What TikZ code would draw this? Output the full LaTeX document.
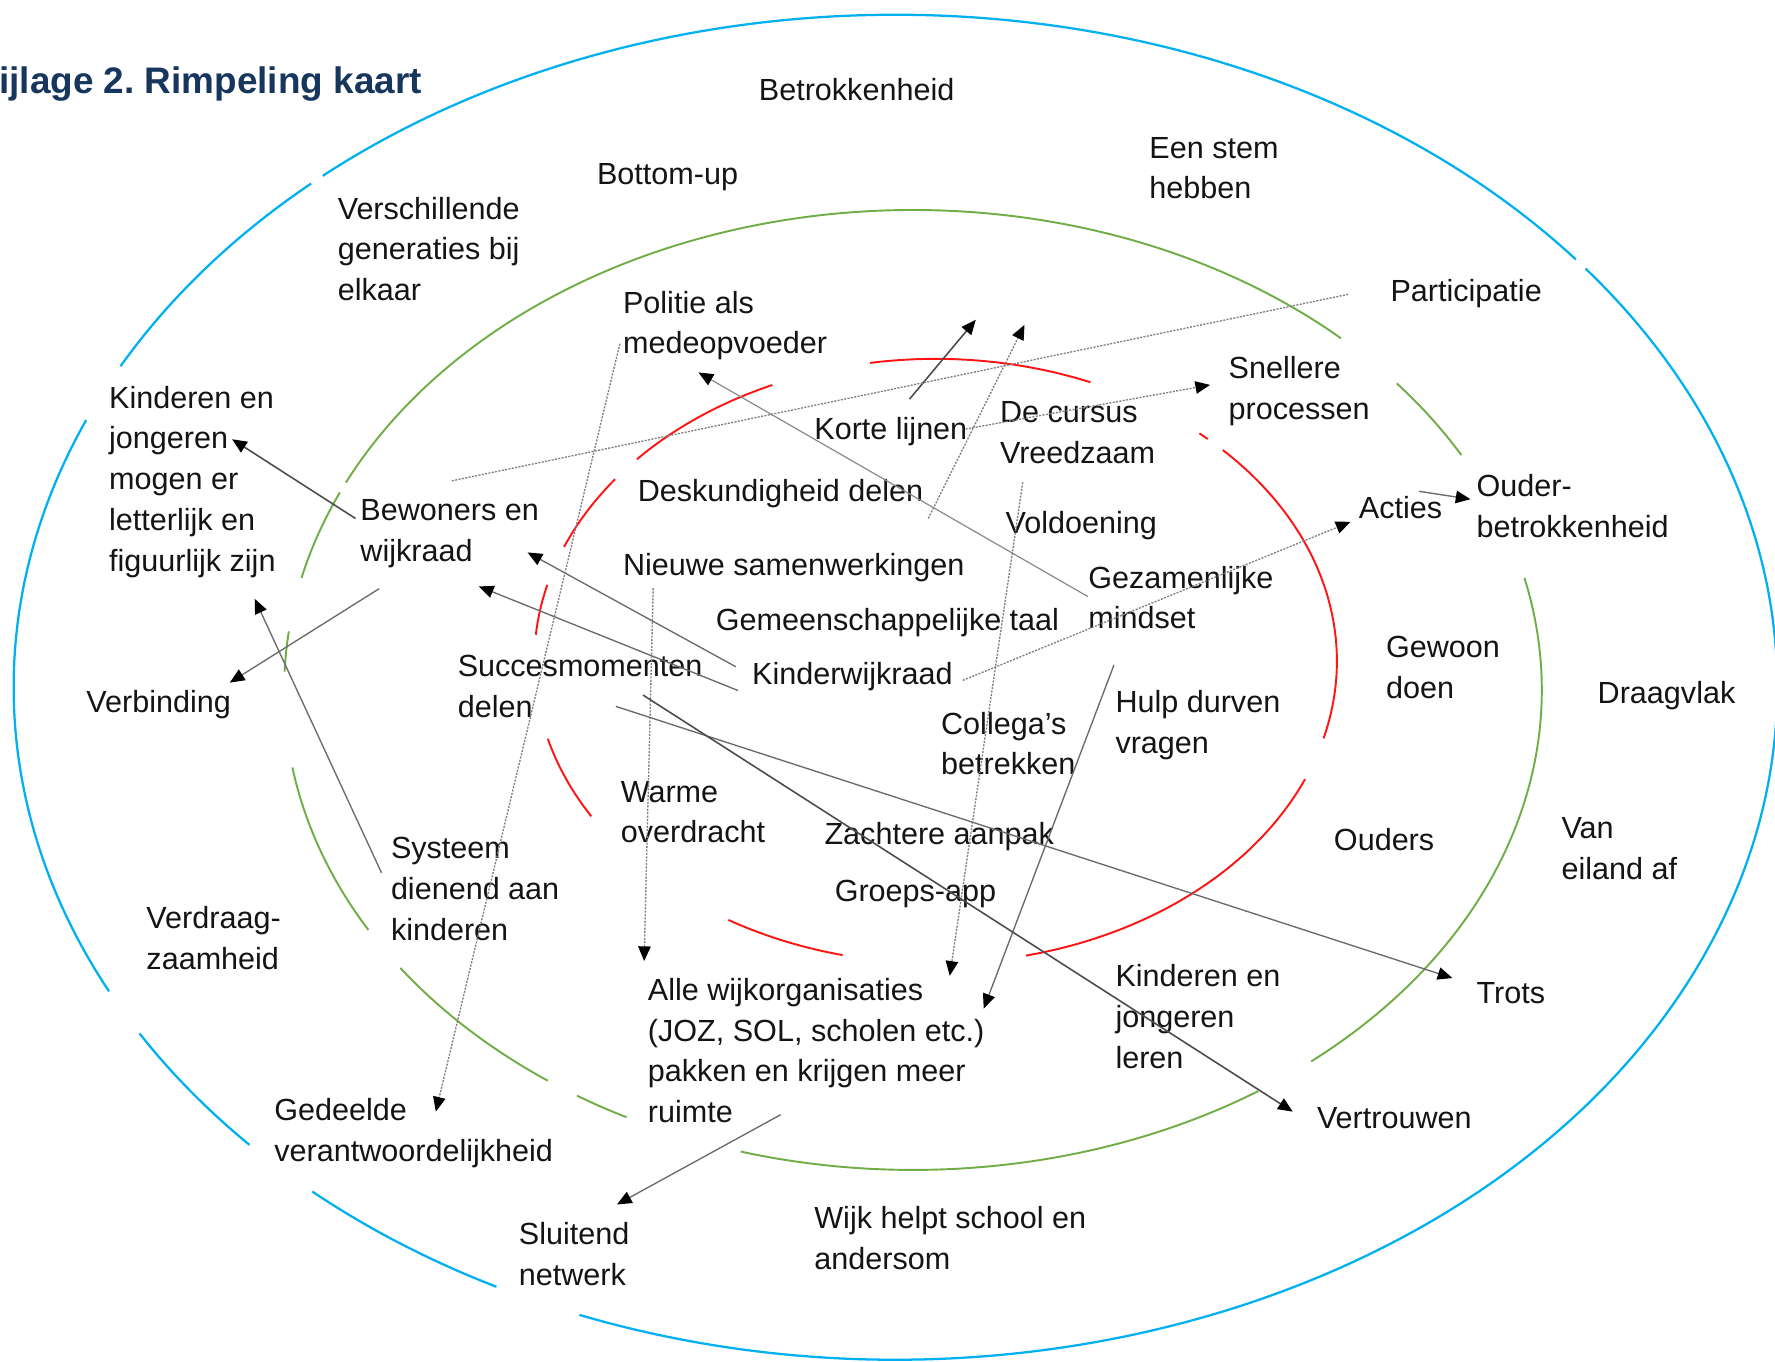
\documentclass[tikz,border=0pt]{standalone}
\usepackage{fontspec}
\setmainfont{Liberation Sans}
\usetikzlibrary{arrows.meta}
\frenchspacing
\definecolor{cblue}{RGB}{0,176,240}
\definecolor{cgreen}{RGB}{112,173,71}
\definecolor{cred}{RGB}{255,20,20}
\definecolor{ctitle}{RGB}{23,54,93}
% #1 style, #2 cx, #3 cy, #4 rx, #5 ry, #6 start angle, #7 end angle (visual, counterclockwise)
\newcommand\earc[7]{\draw[#1] ({#2+#4*cos(#6)},{#3-#5*sin(#6)}) arc[start angle=#6, end angle=#7, x radius={#4*0.5pt}, y radius={#5*0.5pt}];}
\tikzset{
  lbl/.style={anchor=north west, inner sep=0pt, align=left, text=black!92,
    font=\fontsize{13.5}{18}\selectfont},
  ring/.style={line width=1pt, draw=cblue},
  gring/.style={line width=0.85pt, draw=cgreen},
  rring/.style={line width=0.85pt, draw=cred},
  tipp/.style={-{Triangle[length=6.5pt,width=5.5pt,color=black]}},
  ln/.style={draw=black!58, line width=0.6pt},
  lnd/.style={draw=black!70, line width=0.7pt},
  lnl/.style={draw=black!45, line width=0.55pt},
  dt/.style={draw=black!50, line width=0.6pt, dash pattern=on 0.9pt off 0.6pt},
}
\begin{document}
\begin{tikzpicture}[x=0.5pt, y=-0.5pt]
\useasboundingbox (0,0) rectangle (1568,1203);

% ---------- blue ellipse ----------
\earc{ring}{791}{607}{779}{594}{39.5}{130.5}
\earc{ring}{791}{607}{779}{594}{131.5}{151.5}
\earc{ring}{791}{607}{779}{594}{156.6}{206.9}
\earc{ring}{791}{607}{779}{594}{211.0}{222.9}
\earc{ring}{791}{607}{779}{594}{228.6}{243.1}
\earc{ring}{791}{607}{779}{594}{249.0}{398.5}

% ---------- green ellipse ----------
\earc{gring}{806.5}{609.5}{555.5}{424}{29.3}{39.7}
\earc{gring}{806.5}{609.5}{555.5}{424}{47.1}{154.4}
\earc{gring}{806.5}{609.5}{555.5}{424}{155.7}{166.5}
\earc{gring}{806.5}{609.5}{555.5}{424}{173}{177.8}
\earc{gring}{806.5}{609.5}{555.5}{424}{189.3}{210.0}
\earc{gring}{806.5}{609.5}{555.5}{424}{215.4}{234.5}
\earc{gring}{806.5}{609.5}{555.5}{424}{237.7}{242.9}
\earc{gring}{806.5}{609.5}{555.5}{424}{254.1}{303.3}
\earc{gring}{806.5}{609.5}{555.5}{424}{309.3}{373.5}

% ---------- red ellipse ----------
\earc{rring}{826.5}{584}{354.5}{267}{-77}{-23}
\earc{rring}{826.5}{584}{354.5}{267}{-14.8}{44.3}
\earc{rring}{826.5}{584}{354.5}{267}{47.3}{48.9}
\earc{rring}{826.5}{584}{354.5}{267}{67.3}{99.4}
\earc{rring}{826.5}{584}{354.5}{267}{114}{138.1}
\earc{rring}{826.5}{584}{354.5}{267}{143}{157.8}
\earc{rring}{826.5}{584}{354.5}{267}{165.4}{175}
\earc{rring}{826.5}{584}{354.5}{267}{194.9}{210.9}
\earc{rring}{826.5}{584}{354.5}{267}{238.9}{256.6}

% ---------- title ----------
\node[anchor=base west, inner sep=0pt, text=ctitle,
      font=\fontsize{16.3}{20}\selectfont\bfseries] (title) at (-1,83) {ijlage 2. Rimpeling kaart};

% ---------- labels ----------
\node[lbl] (bet)  at (670,63)   {\strut Betrokkenheid};
\node[lbl] (stem) at (1015,114) {\strut Een stem\\hebben};
\node[lbl] (bot)  at (527,137)  {\strut Bottom-up};
\node[lbl] (ver)  at (298,168)  {\strut Verschillende\\generaties bij\\elkaar};
\node[lbl] (par)  at (1228,241) {\strut Participatie};
\node[lbl] (pol)  at (550,251)  {\strut Politie als\\medeopvoeder};
\node[lbl] (sne)  at (1085,309) {\strut Snellere\\processen};
\node[lbl] (kej)  at (96,335)   {\strut Kinderen en\\jongeren\\mogen er\\letterlijk en\\figuurlijk zijn};
\node[lbl] (kor)  at (719,363)  {\strut Korte lijnen};
\node[lbl] (cur)  at (883,348)  {\strut De cursus\\Vreedzaam};
\node[lbl] (des)  at (563,417)  {\strut Deskundigheid delen};
\node[lbl] (oud)  at (1304,413) {\strut Ouder-\\betrokkenheid};
\node[lbl] (act)  at (1200,432) {\strut Acties};
\node[lbl] (bew)  at (318,434)  {\strut Bewoners en\\wijkraad};
\node[lbl] (vol)  at (888,446)  {\strut Voldoening};
\node[lbl] (nie)  at (550,483)  {\strut Nieuwe samenwerkingen};
\node[lbl] (gez)  at (961,494)  {\strut Gezamenlijke\\mindset};
\node[lbl] (gem)  at (632,531)  {\strut Gemeenschappelijke taal};
\node[lbl] (gew)  at (1224,555) {\strut Gewoon\\doen};
\node[lbl] (suc)  at (404,572)  {\strut Succesmomenten\\delen};
\node[lbl] (kwr)  at (664,579)  {\strut Kinderwijkraad};
\node[lbl] (vrb)  at (76,604)   {\strut Verbinding};
\node[lbl] (dra)  at (1411,596) {\strut Draagvlak};
\node[lbl] (hul)  at (985,604)  {\strut Hulp durven\\vragen};
\node[lbl] (col)  at (831,623)  {\strut Collega’s\\betrekken};
\node[lbl] (war)  at (548,683)  {\strut Warme\\overdracht};
\node[lbl] (zac)  at (728,720)  {\strut Zachtere aanpak};
\node[lbl] (ous)  at (1178,726) {\strut Ouders};
\node[lbl] (van)  at (1379,715) {\strut Van\\eiland af};
\node[lbl] (sys)  at (345,733)  {\strut Systeem\\dienend aan\\kinderen};
\node[lbl] (vdr)  at (129,795)  {\strut Verdraag-\\zaamheid};
\node[lbl] (gro)  at (737,771)  {\strut Groeps-app};
\node[lbl] (kjl)  at (985,846)  {\strut Kinderen en\\jongeren\\leren};
\node[lbl] (alle) at (572,858)  {\strut Alle wijkorganisaties\\(JOZ, SOL, scholen etc.)\\pakken en krijgen meer\\ruimte};
\node[lbl] (tro)  at (1304,861) {\strut Trots};
\node[lbl] (ged)  at (242,964)  {\strut Gedeelde\\verantwoordelijkheid};
\node[lbl] (vtr)  at (1163,971) {\strut Vertrouwen};
\node[lbl] (wij)  at (719,1060) {\strut Wijk helpt school en\\andersom};
\node[lbl] (slu)  at (458,1074) {\strut Sluitend\\netwerk};

% free ends
\coordinate (korTip) at ([shift={(143,-80.5)}]kor.north west);
\coordinate (desTip) at ([shift={(342,-130)}]des.north west);

% ---------- connectors ----------
\draw[lnd,tipp] ([shift={(-4,24)}]bew.north west) -- ([shift={(109,53)}]kej.north west);
\draw[ln,tipp]  ([shift={(17,86)}]bew.north west) -- ([shift={(127,-1)}]vrb.north west);
\draw[ln,tipp]  ([shift={(-8,38)}]sys.north west) -- ([shift={(129,194)}]kej.north west);
\draw[ln,tipp]  ([shift={(-14,10)}]kwr.north west) -- ([shift={(148,54)}]bew.north west);
\draw[ln,tipp]  ([shift={(-12,31)}]kwr.north west) -- ([shift={(105,84)}]bew.north west);
\draw[lnl,tipp] ([shift={(0,33)}]gez.north west) -- ([shift={(67,78)}]pol.north west);
\draw[lnd,tipp] ([shift={(84.5,-10.5)}]kor.north west) -- (korTip);
\draw[dt,tipp]  ([shift={(257,41)}]des.north west) -- (desTip);
\draw[dt]       ([shift={(-37,19)}]par.north west) -- ([shift={(80,-9)}]bew.north west);
\draw[dt,tipp]  ([shift={(134,16)}]kor.north west) -- ([shift={(-16,31)}]sne.north west);
\draw[dt,tipp]  ([shift={(186.5,22)}]kwr.north west) -- ([shift={(-7,29)}]act.north west);
\draw[ln,tipp]  ([shift={(53.5,2)}]act.north west) -- ([shift={(-5,28)}]oud.north west);
\draw[dt,tipp]  ([shift={(20.5,78)}]cur.north west) -- ([shift={(267,4)}]alle.north west);
\draw[ln,tipp]  ([shift={(-1,-16.5)}]hul.north west) -- ([shift={(297,33)}]alle.north west);
\draw[dt,tipp]  ([shift={(27,36.5)}]nie.north west) -- ([shift={(-3,-9)}]alle.north west);
\draw[ln,tipp]  ([shift={(140,52)}]suc.north west) -- ([shift={(-21,3)}]tro.north west);
\draw[lnd,tipp] ([shift={(164,42)}]suc.north west) -- ([shift={(-21,11)}]vtr.north west);
\draw[dt,tipp]  ([shift={(-2.4,52.6)}]pol.north west) -- ([shift={(143,18)}]ged.north west);
\draw[ln,tipp]  ([shift={(117.6,126.7)}]alle.north west) -- ([shift={(87,-10)}]slu.north west);
\end{tikzpicture}
\end{document}
